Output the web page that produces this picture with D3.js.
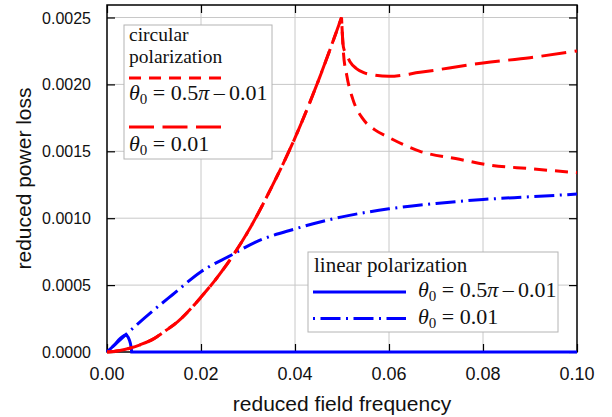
<!DOCTYPE html>
<html><head><meta charset="utf-8">
<script src="https://cdn.jsdelivr.net/npm/d3@7"></script>
<style>body{margin:0;background:#fff}svg{display:block}</style>
</head><body>
<svg id="c" width="612" height="417"></svg>
<script>
// ---- data ----
const xTicks = [0, 0.02, 0.04, 0.06, 0.08, 0.10];
const xTickLabels = ["0.00", "0.02", "0.04", "0.06", "0.08", "0.10"];
const yTicks = [0, 0.0005, 0.0010, 0.0015, 0.0020, 0.0025];
const yTickLabels = ["0.0000", "0.0005", "0.0010", "0.0015", "0.0020", "0.0025"];

// circular polarization: common rising branch (both θ0)
const circRiseX = [0, 0.0025, 0.005, 0.0075, 0.01, 0.0125, 0.015, 0.02, 0.025, 0.03, 0.035, 0.04, 0.045, 0.0499];
const circRiseY = [0, 0.00001, 0.00003, 0.00006, 0.0001, 0.00016, 0.000225, 0.00041, 0.00063, 0.0009, 0.00123, 0.0016, 0.00203, 0.0025];
// circular θ0 = 0.5π − 0.01 after peak
const circPerpX = [0.0499, 0.0503, 0.0510, 0.0523, 0.0545, 0.0570, 0.0596, 0.0666, 0.075, 0.0809, 0.09, 0.1];
const circPerpY = [0.0025, 0.00224, 0.00207, 0.00189, 0.00174, 0.00166, 0.00161, 0.00150, 0.00144, 0.00140, 0.00137, 0.00134];
// circular θ0 = 0.01 after peak
const circParX = [0.0499, 0.0503, 0.0510, 0.0517, 0.0530, 0.0545, 0.0567, 0.06, 0.0666, 0.08, 0.09, 0.1];
const circParY = [0.0025, 0.00228, 0.00222, 0.00217, 0.00212, 0.00209, 0.00207, 0.00206, 0.00209, 0.00216, 0.0022, 0.00225];
// linear polarization θ0 = 0.5π − 0.01
const linPerpX = [0, 0.0015, 0.00277, 0.0035, 0.00404, 0.0045, 0.00475, 0.00511, 0.00525];
const linPerpY = [0, 0.00005, 0.0001, 0.00012, 0.000127, 0.00011, 0.00009, 0.00004, 0];
const linPerpTailX = [0.00525, 0.1];
const linPerpTailY = [0, 0];
// linear polarization θ0 = 0.01
const linParX = [0, 0.004, 0.0095, 0.014, 0.02, 0.0265, 0.0315, 0.04, 0.05, 0.06, 0.07, 0.08, 0.09, 0.1];
const linParY = [0, 0.00013, 0.0003, 0.00043, 0.0006, 0.000725, 0.00082, 0.00092, 0.00101, 0.00107, 0.00111, 0.00114, 0.00116, 0.00118];

// ---- layout ----
const L = 107, R = 577, T = 5, B = 352;
const x = d3.scaleLinear().domain([0, 0.1]).range([L, R]);
const y = d3.scaleLinear().domain([0, 0.0025]).range([B, 17.5]);
const svg = d3.select("#c");
const sans = "'Liberation Sans', Arial, sans-serif";
const serif = "'Liberation Serif', 'Times New Roman', serif";
const red = "#ff0000", blue = "#0000ff";

// grid
svg.append("g").selectAll("line").data(xTicks.slice(1, -1)).join("line")
  .attr("x1", d => x(d)).attr("x2", d => x(d)).attr("y1", T).attr("y2", B)
  .attr("stroke", "#c8c8c8").attr("stroke-width", 1);
svg.append("g").selectAll("line").data(yTicks.slice(1)).join("line")
  .attr("x1", L).attr("x2", R).attr("y1", d => y(d)).attr("y2", d => y(d))
  .attr("stroke", "#c8c8c8").attr("stroke-width", 1);

// axes (inward ticks on all sides)
const tl = 8;
svg.append("g").attr("transform", `translate(0,${B})`)
  .call(d3.axisBottom(x).tickValues(xTicks).tickSize(-tl).tickPadding(0).tickFormat(""))
  .call(g => g.select(".domain").remove());
svg.append("g").attr("transform", `translate(0,${T})`)
  .call(d3.axisTop(x).tickValues(xTicks).tickSize(-tl).tickFormat(""))
  .call(g => g.select(".domain").remove());
svg.append("g").attr("transform", `translate(${L},0)`)
  .call(d3.axisLeft(y).tickValues(yTicks).tickSize(-tl).tickFormat(""))
  .call(g => g.select(".domain").remove());
svg.append("g").attr("transform", `translate(${R},0)`)
  .call(d3.axisRight(y).tickValues(yTicks).tickSize(-tl).tickFormat(""))
  .call(g => g.select(".domain").remove());
svg.selectAll(".tick line").attr("stroke", "#000").attr("stroke-width", 1.2);
svg.append("rect").attr("x", L).attr("y", T).attr("width", R - L).attr("height", B - T)
  .attr("fill", "none").attr("stroke", "#000").attr("stroke-width", 1.5);

// tick labels
svg.append("g").selectAll("text").data(xTicks).join("text")
  .attr("x", d => x(d)).attr("y", 380).attr("text-anchor", "middle")
  .attr("font-family", sans).attr("font-size", 18).attr("fill", "#111")
  .text((d, i) => xTickLabels[i]);
svg.append("g").selectAll("text").data(yTicks).join("text")
  .attr("x", 91).attr("y", d => y(d) + 6).attr("text-anchor", "end")
  .attr("font-family", sans).attr("font-size", 16).attr("fill", "#111")
  .text((d, i) => yTickLabels[i]);

// axis titles
svg.append("text").attr("x", (L + R) / 2).attr("y", 411).attr("text-anchor", "middle")
  .attr("font-family", sans).attr("font-size", 21).attr("fill", "#111").text("reduced field frequency");
svg.append("text").attr("transform", `translate(31,${(T + B) / 2}) rotate(-90)`).attr("text-anchor", "middle")
  .attr("font-family", sans).attr("font-size", 21).attr("fill", "#111").text("reduced power loss");

// curves
const zip = (xs, ys) => xs.map((v, i) => [v, ys[i]]);
const line = d3.line().x(d => x(d[0])).y(d => y(d[1])).curve(d3.curveMonotoneX);
const join2 = (a, b) => line(a) + line(b).replace(/^M/, "L");

const shortDash = "13,8", longDash = "25,8.5", dashDot = "2,5.5,20,5.5";

svg.append("path").attr("d", join2(zip(linPerpX, linPerpY), zip(linPerpTailX, linPerpTailY)))
  .attr("fill", "none").attr("stroke", blue).attr("stroke-width", 3);
svg.append("path").attr("d", line(zip(linParX, linParY)))
  .attr("fill", "none").attr("stroke", blue).attr("stroke-width", 3).attr("stroke-dasharray", dashDot);
svg.append("path").attr("d", join2(zip(circRiseX, circRiseY), zip(circParX, circParY)))
  .attr("fill", "none").attr("stroke", red).attr("stroke-width", 3).attr("stroke-dasharray", longDash);
svg.append("path").attr("d", join2(zip(circRiseX, circRiseY), zip(circPerpX, circPerpY)))
  .attr("fill", "none").attr("stroke", red).attr("stroke-width", 3).attr("stroke-dasharray", shortDash);

// math label helper
function mathLabel(g, x0, y0, withPi) {
  const t = g.append("text").attr("x", x0).attr("y", y0).attr("font-family", serif)
    .attr("font-size", 22).attr("fill", "#111");
  t.append("tspan").attr("font-style", "italic").text("θ");
  t.append("tspan").attr("font-size", 15).attr("dy", 4).text("0");
  if (withPi) {
    t.append("tspan").attr("dy", -4).text(" = 0.5");
    t.append("tspan").attr("font-style", "italic").text("π");
    t.append("tspan").text("\u2009\u2013\u20090.01");
  } else {
    t.append("tspan").attr("dy", -4).text(" = 0.01");
  }
}

// circular legend
const lg1 = svg.append("g");
lg1.append("rect").attr("x", 124).attr("y", 25).attr("width", 148).attr("height", 134)
  .attr("fill", "#fff").attr("stroke", "#b4b4b4").attr("stroke-width", 1);
lg1.append("text").attr("x", 129).attr("y", 41).attr("font-family", serif)
  .attr("font-size", 19.5).attr("fill", "#111").text("circular");
lg1.append("text").attr("x", 129).attr("y", 63).attr("font-family", serif)
  .attr("font-size", 19.5).attr("fill", "#111").text("polarization");
lg1.append("line").attr("x1", 129).attr("x2", 221).attr("y1", 78).attr("y2", 78)
  .attr("stroke", red).attr("stroke-width", 3).attr("stroke-dasharray", "12,8");
mathLabel(lg1, 129, 100, true);
lg1.append("line").attr("x1", 129).attr("x2", 222).attr("y1", 127).attr("y2", 127)
  .attr("stroke", red).attr("stroke-width", 3).attr("stroke-dasharray", longDash);
mathLabel(lg1, 129, 151, false);

// linear legend
const lg2 = svg.append("g");
lg2.append("rect").attr("x", 308).attr("y", 252).attr("width", 250).attr("height", 80)
  .attr("fill", "#fff").attr("stroke", "#b4b4b4").attr("stroke-width", 1);
lg2.append("text").attr("x", 314).attr("y", 272).attr("font-family", serif).attr("font-size", 21)
  .attr("fill", "#111").text("linear polarization");
lg2.append("line").attr("x1", 313).attr("x2", 406).attr("y1", 292).attr("y2", 292)
  .attr("stroke", blue).attr("stroke-width", 3);
mathLabel(lg2, 418, 297, true);
lg2.append("line").attr("x1", 313).attr("x2", 406).attr("y1", 318.5).attr("y2", 318.5)
  .attr("stroke", blue).attr("stroke-width", 3).attr("stroke-dasharray", dashDot);
mathLabel(lg2, 418, 324, false);
</script>
</body></html>
